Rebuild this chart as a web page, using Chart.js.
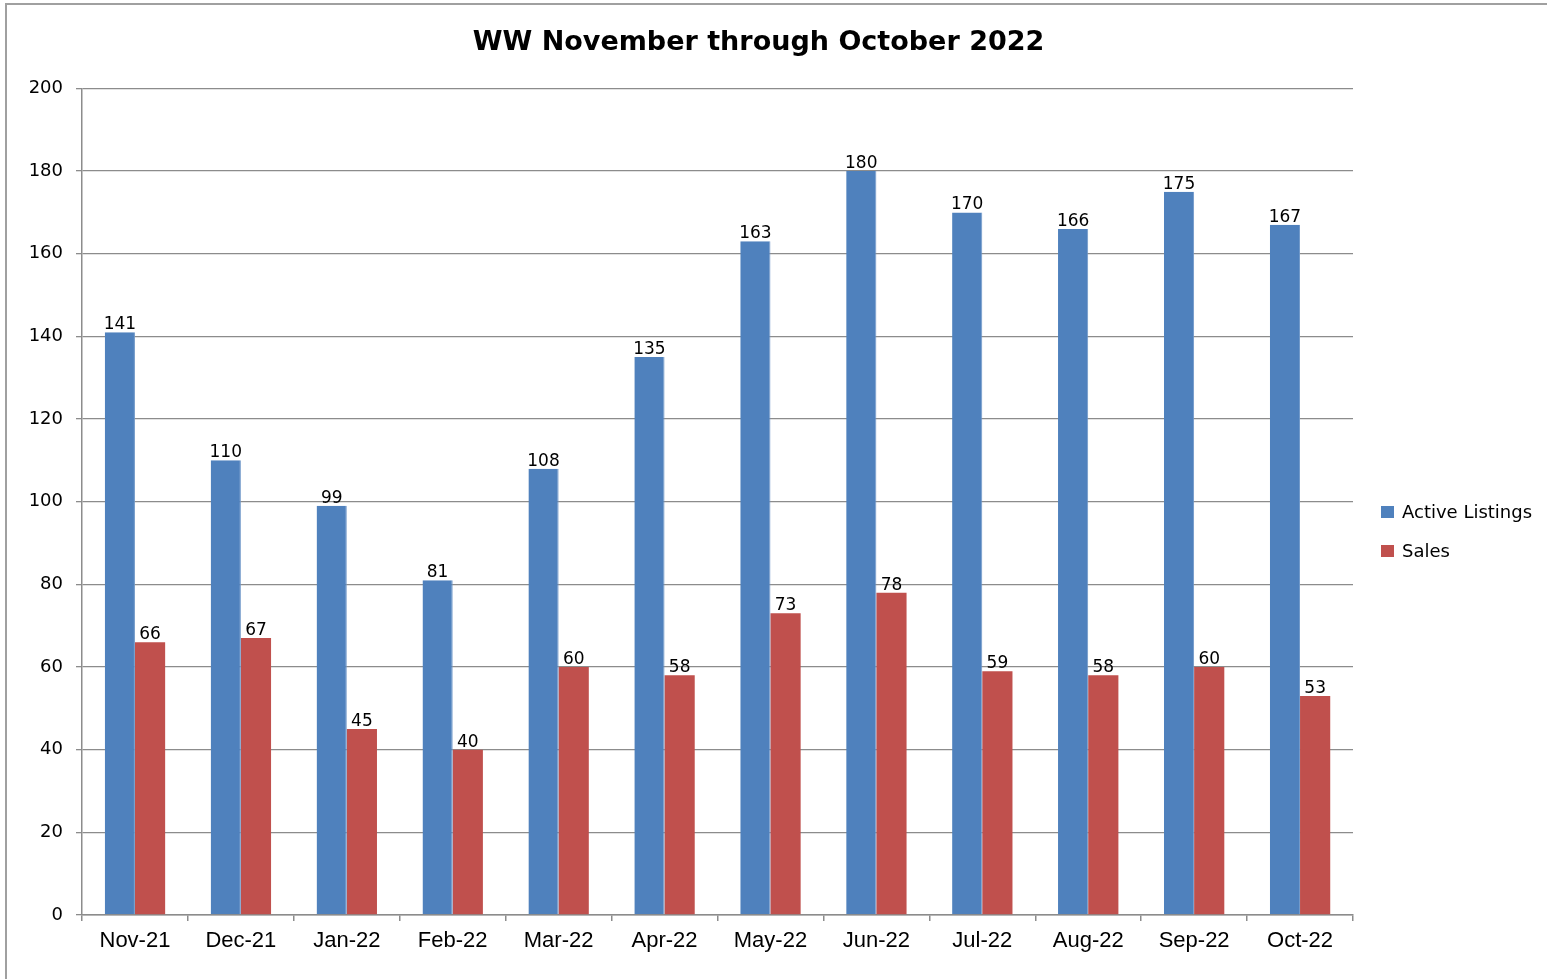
<!DOCTYPE html>
<html>
<head>
<meta charset="utf-8">
<script src="https://cdn.jsdelivr.net/npm/chart.js@4/dist/chart.umd.min.js"></script>
<style>
    html, body { margin: 0; padding: 0; background: #fff; }
    #wrap { position: relative; width: 1547px; height: 979px; overflow: hidden; }
    #frame {
        position: absolute; left: 5px; top: 3px; width: 1600px; height: 1100px;
        border-left: 2px solid #a0a0a0; border-top: 2px solid #a0a0a0;
        pointer-events: none;
    }
</style>
</head>
<body>
<div id="wrap">
    <canvas id="chart" width="1547" height="979"></canvas>
    <div id="frame"></div>
</div>
<script>
const months = ['Nov-21', 'Dec-21', 'Jan-22', 'Feb-22', 'Mar-22', 'Apr-22',
                'May-22', 'Jun-22', 'Jul-22', 'Aug-22', 'Sep-22', 'Oct-22'];
const activeListings = [141, 110, 99, 81, 108, 135, 163, 180, 170, 166, 175, 167];
const sales = [66, 67, 45, 40, 60, 58, 73, 78, 59, 58, 60, 53];
const seriesNames = ['Active Listings', 'Sales'];
const yTicks = [0, 20, 40, 60, 80, 100, 120, 140, 160, 180, 200];

// value labels above each bar
const barLabels = {
    id: 'barLabels',
    afterDatasetsDraw(chart) {
        const ctx = chart.ctx;
        ctx.save();
        ctx.font = '17px "DejaVu Sans"';
        ctx.fillStyle = '#000';
        ctx.textAlign = 'center';
        ctx.textBaseline = 'bottom';
        chart.data.datasets.forEach((ds, i) => {
            chart.getDatasetMeta(i).data.forEach((bar, j) => {
                ctx.fillText(ds.data[j], bar.x, bar.y + 1);
            });
        });
        ctx.restore();
    }
};

// legend on the right, like the original
const sideLegend = {
    id: 'sideLegend',
    afterDraw(chart) {
        const ctx = chart.ctx;
        ctx.save();
        ctx.font = '18px "DejaVu Sans"';
        ctx.textBaseline = 'middle';
        chart.data.datasets.forEach((ds, i) => {
            const y = 512 + i * 39;
            ctx.fillStyle = ds.backgroundColor;
            ctx.fillRect(1381, y - 6, 13, 12);
            ctx.fillStyle = '#000';
            ctx.fillText(ds.label, 1402, y + 1);
        });
        ctx.restore();
    }
};

new Chart(document.getElementById('chart').getContext('2d'), {
    type: 'bar',
    data: {
        labels: months,
        datasets: [
            {
                label: seriesNames[0],
                data: activeListings,
                backgroundColor: '#4F81BD',
                borderColor: '#6f97c8',
                borderWidth: { right: 1 },
                borderSkipped: false,
                categoryPercentage: 0.57,
                barPercentage: 1.0
            },
            {
                label: seriesNames[1],
                data: sales,
                backgroundColor: '#C0504D',
                borderWidth: 0,
                categoryPercentage: 0.57,
                barPercentage: 1.0
            }
        ]
    },
    options: {
        responsive: false,
        animation: false,
        layout: { padding: { left: 0, right: 30, top: 0, bottom: 0 } },
        plugins: {
            legend: { display: false },
            tooltip: { enabled: false },
            title: {
                display: true,
                text: 'WW November through October 2022',
                color: '#000',
                font: { family: '"DejaVu Sans"', size: 27, weight: 'bold' },
                padding: { top: 27, bottom: 29 }
            }
        },
        scales: {
            x: {
                grid: {
                    offset: true,
                    drawOnChartArea: false,
                    drawTicks: true,
                    tickLength: 6,
                    color: '#8c8c8c',
                    lineWidth: 1.5
                },
                border: { color: '#8c8c8c', width: 1.5 },
                ticks: {
                    color: '#000',
                    padding: 7,
                    font: { family: '"Liberation Sans"', size: 22 }
                },
                afterFit(scale) { scale.height = 64; }
            },
            y: {
                min: 0,
                max: 200,
                afterBuildTicks(scale) { scale.ticks = yTicks.map(v => ({ value: v })); },
                grid: {
                    color: '#8c8c8c',
                    lineWidth: 1.3,
                    tickLength: 6
                },
                border: { color: '#8c8c8c', width: 1.5 },
                ticks: {
                    color: '#000',
                    padding: 13,
                    font: { family: '"DejaVu Sans"', size: 18 }
                },
                afterFit(scale) { scale.width = 82; }
            },
            // empty space on the right where the legend sits
            legendSpace: {
                position: 'right',
                display: true,
                grid: { display: false },
                border: { display: false },
                ticks: { display: false },
                afterFit(scale) { scale.width = 164; }
            }
        }
    },
    plugins: [barLabels, sideLegend]
});
</script>
</body>
</html>
